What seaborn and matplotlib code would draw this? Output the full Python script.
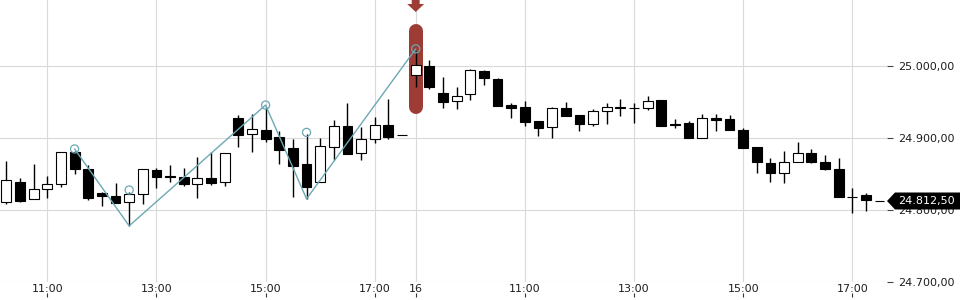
import numpy as np
import pandas as pd
import matplotlib
matplotlib.use("Agg")
import matplotlib.pyplot as plt
import seaborn as sns
from matplotlib.patches import Polygon

# ---------------- data ----------------
day1_times = pd.date_range("2024-01-15 10:15", "2024-01-15 17:30", freq="15min")
day2_times = pd.date_range("2024-01-16 09:00", "2024-01-16 17:30", freq="15min")
times = list(day1_times) + list(day2_times)

opens = [24811, 24839, 24815, 24829, 24836, 24880.5, 24856.5, 24823, 24820, 24811,
         24822, 24855.5, 24847, 24845.5, 24836, 24844.5, 24838.5, 24928, 24905, 24911,
         24901.5, 24886.5, 24863.5, 24838.5, 24887, 24916.5, 24878.5, 24898, 24918, 24904,
         24988, 24999.5, 24962.5, 24952, 24960.5, 24993, 24982, 24946, 24942.5, 24923.5,
         24915, 24941, 24932, 24919, 24937, 24942.5, 24942, 24941, 24953, 24920,
         24921, 24899.5, 24927.5, 24926, 24910.5, 24887, 24865.5, 24851, 24866, 24878.5,
         24866.5, 24857, 24817.5, 24820.5, 24812.5]
highs = [24868, 24844, 24864, 24847, 24881, 24882, 24862, 24825, 24837.5, 24825,
         24856.5, 24858, 24862.5, 24859, 24874, 24880.5, 24879, 24932.5, 24933, 24943,
         24910, 24898.5, 24905, 24900, 24925, 24948.5, 24915, 24929, 24954, 24904,
         25021, 25008, 24984.5, 24971, 24996, 24995, 24983, 24948.5, 24951.5, 24923.5,
         24943, 24950, 24932, 24940, 24948, 24954, 24948.5, 24958, 24953, 24926.5,
         24923, 24933, 24933, 24932, 24913.5, 24887, 24872, 24882, 24894.5, 24884.5,
         24876, 24872, 24830.5, 24823, 24812.5]
lows = [24808, 24811.5, 24815, 24816, 24832, 24850, 24813.5, 24805, 24810, 24778,
        24808, 24831, 24838.5, 24834, 24817, 24834.5, 24833, 24888, 24881, 24894.5,
        24864, 24817.5, 24815.5, 24838.5, 24870, 24878, 24870, 24893.5, 24898.5, 24904,
        24971.5, 24968.5, 24942, 24940.5, 24953, 24974, 24945, 24928, 24917, 24903,
        24900.5, 24930, 24910, 24917, 24919, 24931, 24921, 24938.5, 24917, 24914.5,
        24899.5, 24899.5, 24910, 24910.5, 24886.5, 24852, 24839.5, 24837, 24866, 24865,
        24856, 24817.5, 24795.5, 24798, 24812.5]
closes = [24841, 24813, 24829, 24836, 24880.5, 24856.5, 24817, 24820, 24810, 24822,
          24856.5, 24846, 24845.5, 24836.5, 24844, 24838, 24879, 24904.5, 24912, 24899,
          24884, 24861.5, 24832.5, 24888.5, 24916.5, 24878, 24898.5, 24917.5, 24902, 24904,
          25001, 24971.5, 24950.5, 24959, 24994, 24984, 24945, 24942, 24922.5, 24914.5,
          24941, 24930, 24919, 24937, 24942.5, 24941, 24941, 24951, 24917, 24918,
          24899.5, 24927.5, 24924.5, 24910.5, 24886.5, 24866, 24851, 24866.5, 24878.5, 24866,
          24857.5, 24817.5, 24817.5, 24813.5, 24812.5]

pivot_idx = [5, 9, 19, 22, 30]
pivot_kind = ["H", "L", "H", "L", "H"]
signal_idx = 30
y_ticks = [24700, 24800, 24900, 25000]

# ---------------- style ----------------
sns.set_style("white")
plt.rcParams["font.family"] = ["DejaVu Sans"]
plt.rcParams["font.size"] = 8

TEAL = "#6ba9b3"
RED = "#9c3c35"
GRID = "#dadada"
TXT = "#1e1e1e"

PX_PER_UNIT = 0.72          # vertical pixels per price point
PX_PER_BAR = 13.644         # horizontal pixels per bar

fig = plt.figure(figsize=(9.6, 3.0), dpi=100)
ax = fig.add_axes([0, 18 / 300, 887 / 960, 282 / 300])

o = np.array(opens, dtype=float)
h = np.array(highs, dtype=float)
l = np.array(lows, dtype=float)
c = np.array(closes, dtype=float)
x = np.arange(len(o))

ax.set_xlim(-6.37 / PX_PER_BAR, (887 - 6.37) / PX_PER_BAR)
ax.set_ylim(24700, 25000 + 66 / PX_PER_UNIT)

# grid
ax.grid(True, color=GRID, lw=0.8)
ax.set_axisbelow(True)
for s in ax.spines.values():
    s.set_visible(False)

# x ticks
tick_pos, tick_lab = [], []
for i, t in enumerate(times):
    if i > 0 and t.date() != times[i - 1].date():
        tick_pos.append(i)
        tick_lab.append(f"{t.day}")
    elif t.minute == 0 and t.hour % 2 == 1:
        tick_pos.append(i)
        tick_lab.append(t.strftime("%H:%M"))
ax.set_xticks(tick_pos)
ax.set_xticklabels(tick_lab, color=TXT)
ax.tick_params(axis="x", length=0, pad=1.5, labelsize=8)

sec = ax.secondary_xaxis(location=-11 / 282)
sec.set_xticks(tick_pos)
sec.set_xticklabels([""] * len(tick_pos))
sec.tick_params(axis="x", length=3, width=0.8, color="#333333", direction="out")
sec.spines["bottom"].set_visible(False)

# y ticks on right
ax.yaxis.tick_right()
ax.set_yticks(y_ticks)
ax.set_yticklabels([f"{v:,.2f}".replace(",", "X").replace(".", ",").replace("X", ".")
                    for v in y_ticks], color=TXT)
ax.tick_params(axis="y", length=4, width=0.8, color="#444444", pad=4, labelsize=8)

# red signal bar + arrow
ax.plot([signal_idx, signal_idx],
        [h[signal_idx] + 37 - 7 / PX_PER_UNIT, l[signal_idx] - 38 + 7 / PX_PER_UNIT],
        color=RED, lw=14 * 0.72, solid_capstyle="round", zorder=1.5)
top = 1.0
sh = 0.29
hw = 0.62
ya = 1 - 4 / 282
yt = 1 - 12 / 282
arrow = Polygon([(signal_idx - sh, top), (signal_idx + sh, top), (signal_idx + sh, ya),
                 (signal_idx + hw, ya), (signal_idx, yt), (signal_idx - hw, ya),
                 (signal_idx - sh, ya)], closed=True, transform=ax.get_xaxis_transform(),
                facecolor=RED, edgecolor="none", clip_on=False, zorder=1.5)
ax.add_patch(arrow)

# candles
ax.vlines(x, l, h, color="black", lw=1.0, zorder=2)
up = c > o
face = ["white" if u else "black" for u in up]
ax.bar(x, np.abs(c - o), bottom=np.minimum(o, c), width=0.72, color=face,
       edgecolor="black", linewidth=0.8, zorder=3)

# zigzag
circ_off = 2 / PX_PER_UNIT
piv_vals = [h[i] + circ_off if k == "H" else l[i] for i, k in zip(pivot_idx, pivot_kind)]
sns.lineplot(x=pivot_idx, y=piv_vals, color=TEAL, lw=1.0, ax=ax, zorder=4, sort=False)
sns.scatterplot(x=pivot_idx, y=h[pivot_idx] + circ_off, marker="o", s=34,
                facecolor="none", edgecolor=TEAL, linewidth=0.9, ax=ax, zorder=5)

# last price tag
last = c[-1]
half = 8.5 / PX_PER_UNIT
W = 887.0
tag = Polygon([(1.0, last), (1 + 8 / W, last + half), (960 / W + 0.01, last + half),
               (960 / W + 0.01, last - half), (1 + 8 / W, last - half)], closed=True,
              transform=ax.get_yaxis_transform(), facecolor="black", edgecolor="none",
              clip_on=False, zorder=6)
ax.add_patch(tag)
ax.text(1 + 11 / W, last,
        f"{last:,.2f}".replace(",", "X").replace(".", ",").replace("X", "."),
        transform=ax.get_yaxis_transform(), color="white", fontsize=8,
        va="center", ha="left", clip_on=False, zorder=7)

ax.set_xlabel("")
ax.set_ylabel("")
fig.savefig("out.png", dpi=100)
